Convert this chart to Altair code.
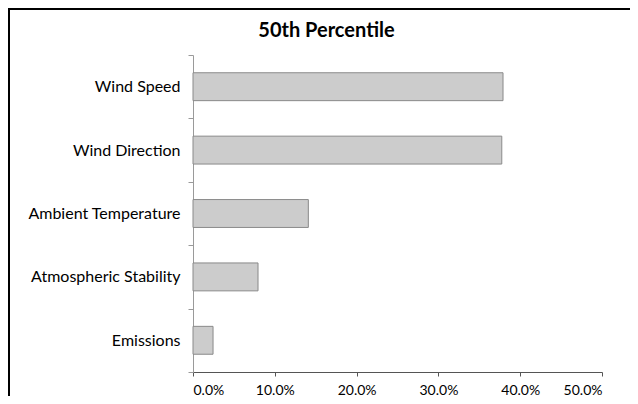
import altair as alt
import pandas as pd

categories = ["Wind Speed", "Wind Direction", "Ambient Temperature", "Atmospheric Stability", "Emissions"]
values = [0.379, 0.3775, 0.141, 0.0795, 0.0245]
x_ticks = [0.0, 0.1, 0.2, 0.3, 0.4, 0.5]
title_text = ["50th Percentile"]

df = pd.DataFrame({"factor": categories, "share": values})
df_title = pd.DataFrame({"t": title_text})

FONT = "Lato"

bars = alt.Chart(df).mark_bar(
    fill="#cccccc", stroke="#8a8a8a", strokeWidth=1,
    height=alt.RelativeBandSize(0.44),
).encode(
    x=alt.X("share:Q",
            scale=alt.Scale(domain=[0, 0.5], nice=False),
            axis=alt.Axis(values=x_ticks, format=".1%", title=None, grid=False,
                          domainColor="#555555", tickColor="#555555", tickSize=4,
                          labelFont=FONT, labelFontSize=14, labelColor="#000000",
                          labelPadding=7)),
    y=alt.Y("factor:N", sort=categories,
            scale=alt.Scale(paddingInner=0, paddingOuter=0),
            axis=alt.Axis(title=None, tickBand="extent", grid=False,
                          domainColor="#9a9a9a", tickColor="#9a9a9a", tickSize=5,
                          labelFont=FONT, labelFontSize=16, labelColor="#000000",
                          labelPadding=8)),
)

title = alt.Chart(df_title).mark_text(
    font=FONT, fontSize=20, fontWeight="bold", color="#000000",
    align="center", baseline="alphabetic",
).encode(text="t:N", x=alt.value(133.5), y=alt.value(-18))

frame_top = alt.Chart(df_title).mark_rule(color="#000000", strokeWidth=2).encode(
    x=alt.value(-185), x2=alt.value(437), y=alt.value(-46))
frame_left = alt.Chart(df_title).mark_rule(color="#000000", strokeWidth=2).encode(
    x=alt.value(-184), y=alt.value(-47), y2=alt.value(341))

chart = alt.layer(bars, title, frame_top, frame_left).properties(
    width=409, height=317,
    autosize=alt.AutoSizeParams(type="none"),
    padding={"left": 185, "top": 47, "right": 28, "bottom": 24},
).configure_view(stroke=None)

chart.save("out.html", embed_options={"renderer": "svg", "actions": False})
